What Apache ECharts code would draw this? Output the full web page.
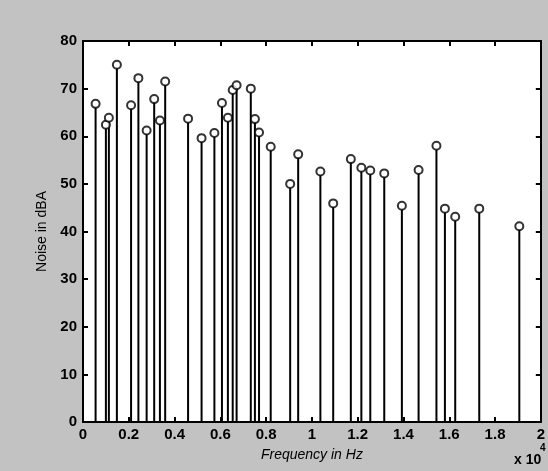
<!DOCTYPE html>
<html>
<head>
<meta charset="utf-8">
<script src="https://cdn.jsdelivr.net/npm/echarts@6/dist/echarts.min.js"></script>
<style>
  html, body { margin: 0; padding: 0; background: #c2c2c2; }
  #chart { width: 548px; height: 471px; }
</style>
</head>
<body>
<div id="chart"></div>
<script>
// Noise spectrum: tonal components (Hz) and their level (dBA)
const frequencies = [550, 1000, 1130, 1480, 2100, 2420, 2780, 3110, 3360, 3590,
  4590, 5180, 5740, 6070, 6330, 6540, 6710, 7330, 7510, 7690,
  8200, 9050, 9400, 10370, 10930, 11700, 12160, 12550, 13160, 13930,
  14660, 15440, 15810, 16260, 17310, 19060];
const levels = [66.8, 62.4, 63.9, 75.0, 66.5, 72.2, 61.2, 67.8, 63.3, 71.5,
  63.7, 59.6, 60.7, 67.0, 63.9, 69.7, 70.7, 70.0, 63.6, 60.8,
  57.8, 50.0, 56.2, 52.6, 45.9, 55.2, 53.4, 52.8, 52.2, 45.4,
  52.9, 58.0, 44.8, 43.1, 44.8, 41.1];
const xTickLabels = ['0', '0.2', '0.4', '0.6', '0.8', '1', '1.2', '1.4', '1.6', '1.8', '2'];
const yTickLabels = ['0', '10', '20', '30', '40', '50', '60', '70', '80'];

const points = frequencies.map((f, i) => [f, levels[i]]);
const font = 'Liberation Sans Narrow, Liberation Sans, Arial, sans-serif';

const chart = echarts.init(document.getElementById('chart'), null, { renderer: 'canvas' });

const tickStyle = { show: true, inside: true, length: 5, lineStyle: { color: '#000', width: 2 } };
const lineStyle = { show: true, onZero: false, lineStyle: { color: '#000', width: 2 } };

const baseX = {
  type: 'value', min: 0, max: 20000, interval: 2000,
  axisLine: lineStyle, axisTick: tickStyle, splitLine: { show: false }
};
const baseY = {
  type: 'value', min: 0, max: 80, interval: 10,
  axisLine: lineStyle, axisTick: tickStyle, splitLine: { show: false }
};

chart.setOption({
  backgroundColor: '#c2c2c2',
  animation: false,
  grid: {
    left: 83, right: 4, top: 41, bottom: 49,
    show: true, backgroundColor: '#ffffff', borderWidth: 0
  },
  xAxis: [
    Object.assign({}, baseX, {
      position: 'bottom',
      name: 'Frequency in Hz', nameLocation: 'middle', nameGap: 26,
      nameTextStyle: { color: '#000', fontFamily: font, fontSize: 14, fontStyle: 'italic' },
      axisLabel: {
        color: '#000', fontFamily: font, fontSize: 15, fontWeight: 'bold', margin: 5,
        formatter: v => xTickLabels[Math.round(v / 2000)]
      }
    }),
    Object.assign({}, baseX, { position: 'top', axisLabel: { show: false } })
  ],
  yAxis: [
    Object.assign({}, baseY, {
      position: 'left',
      name: 'Noise in dBA', nameLocation: 'middle', nameGap: 22,
      nameTextStyle: { color: '#000', fontFamily: font, fontSize: 14 },
      axisLabel: {
        color: '#000', fontFamily: font, fontSize: 15, fontWeight: 'bold', margin: 6,
        formatter: v => yTickLabels[Math.round(v / 10)]
      }
    }),
    Object.assign({}, baseY, { position: 'right', axisLabel: { show: false } })
  ],
  graphic: [{
    type: 'text', left: 514, top: 453,
    style: { text: 'x 10', fill: '#000', font: 'bold 14px ' + font }
  }, {
    type: 'text', left: 540, top: 443,
    style: { text: '4', fill: '#000', font: 'bold 10px ' + font }
  }],
  series: [{
    type: 'custom',
    xAxisIndex: 0, yAxisIndex: 0,
    data: points,
    renderItem: (params, api) => {
      const top = api.coord([api.value(0), api.value(1)]);
      const base = api.coord([api.value(0), 0]);
      return {
        type: 'line',
        shape: { x1: base[0], y1: base[1], x2: top[0], y2: top[1] + 3.5 },
        style: { stroke: '#000', lineWidth: 2 }
      };
    },
    z: 2
  }, {
    type: 'scatter',
    xAxisIndex: 0, yAxisIndex: 0,
    data: points,
    symbol: 'circle', symbolSize: 8,
    itemStyle: { color: '#fff', borderColor: '#000', borderWidth: 2 },
    z: 3
  }]
});
</script>
</body>
</html>
